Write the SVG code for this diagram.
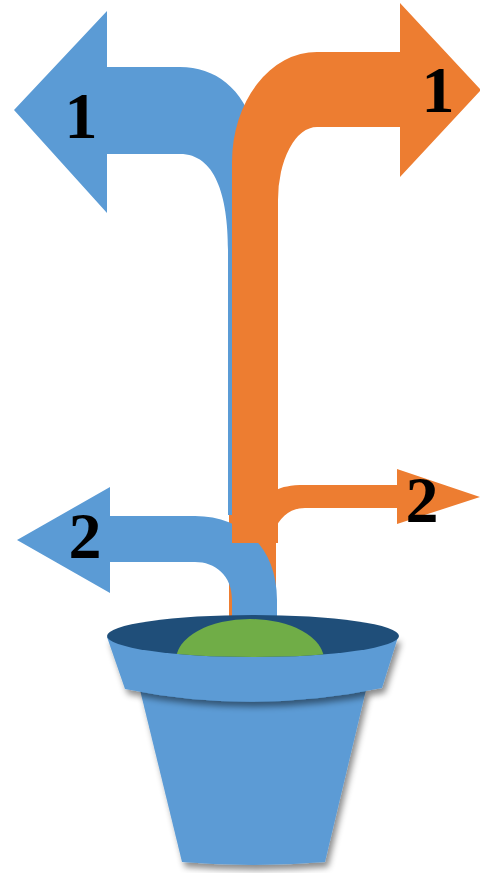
<svg xmlns="http://www.w3.org/2000/svg" width="480" height="873" viewBox="0 0 480 873">
  <defs>
    <style>
      .blue { fill: #5B9BD5; }
      .orange { fill: #ED7D31; }
      .rim { fill: #1F4E79; }
      .soil { fill: #70AD47; }
      .num { font-family: "Liberation Serif", "Times New Roman", serif; font-weight: bold; font-size: 66px; fill: #000; text-anchor: middle; }
    </style>
    <filter id="shade" x="-20%" y="-20%" width="140%" height="140%">
      <feDropShadow dx="3" dy="5" stdDeviation="3" flood-color="#000" flood-opacity="0.45"/>
    </filter>
    <clipPath id="rimClip">
      <ellipse cx="253" cy="636" rx="146" ry="21"/>
    </clipPath>
  </defs>

  <!-- branching arrows -->
  <g id="arrows">
    <!-- lower right branch (its stem runs down into the pot) -->
    <g id="orange-2">
      <path class="orange" d="M229 616 L229 500 L276 490 C282 487 290 485 305 485 L397 485 L397 469 L480 497 L397 524 L397 508 L305 508 C292 508 282 515 276 527 L276 616 Z"/>
      <text class="num" x="422" y="522">2</text>
    </g>
    <!-- upper left branch -->
    <g id="blue-1">
      <path class="blue" d="M14 110 L107 11 L107 67 L180 67 C215 67 243 88 255 130 L265 160 L265 515 L228 515 L228 250 C228 195 215 154 180 154 L107 154 L107 213 Z"/>
      <text class="num" x="81" y="138">1</text>
    </g>
    <!-- lower left branch -->
    <g id="blue-2">
      <path class="blue" d="M17 540 L110 487 L110 516 L195 516 C240 516 277 545 277 600 L277 618 L232 618 L232 600 C232 575 215 562 195 562 L110 562 L110 593 Z"/>
      <text class="num" x="85" y="558">2</text>
    </g>
    <!-- upper right branch with main stem -->
    <g id="orange-1">
      <path class="orange" d="M232 543 L232 162 A85 110 0 0 1 317 52 L400 52 L400 3 L481 90 L400 177 L400 127 L317 127 A39 73 0 0 0 278 200 L278 543 Z"/>
      <text class="num" x="438" y="112">1</text>
    </g>
  </g>

  <!-- flower pot -->
  <g id="pot">
    <path class="blue" filter="url(#shade)" d="M140 690 L366 690 L325 862 Q253 868 182 862 Z"/>
    <path class="blue" filter="url(#shade)" d="M107 637 L398 637 L382 688 Q253 715 125 689 Z"/>
    <ellipse class="rim" cx="253" cy="636" rx="146" ry="21"/>
    <path class="soil" clip-path="url(#rimClip)" d="M176 660 A74 41 0 0 1 324 660 Z"/>
  </g>
</svg>
